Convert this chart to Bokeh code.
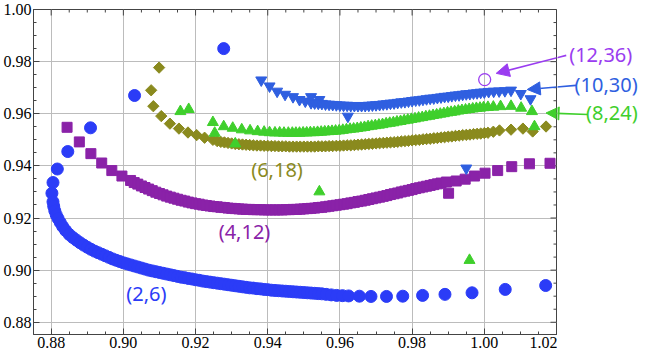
import numpy as np
from bokeh.plotting import figure
from bokeh.layouts import row
from bokeh.models import (Range1d, SingleIntervalTicker, PrintfTickFormatter,
                          Label, Arrow, NormalHead)
from bokeh.embed import file_html
from bokeh.resources import INLINE

# ---------------- data ----------------
# (2,6) blue circles
s26_x = [0.9278, 0.9031, 0.8909, 0.8846, 0.8817, 0.8805, 0.8802, 0.8805, 0.8807, 0.8810,
         0.8814, 0.8819, 0.8825, 0.8832, 0.8840, 0.8850, 0.8860, 0.8870, 0.8880, 0.8890,
         0.8900, 0.8910, 0.8920, 0.8930, 0.8940, 0.8950, 0.8960, 0.8970, 0.8980, 0.8990,
         0.9000, 0.9010, 0.9020, 0.9030, 0.9040, 0.9050, 0.9060, 0.9070, 0.9080, 0.9090,
         0.9100, 0.9110, 0.9120, 0.9130, 0.9140, 0.9150, 0.9160, 0.9170, 0.9180, 0.9190,
         0.9200, 0.9210, 0.9220, 0.9230, 0.9240, 0.9250, 0.9260, 0.9270, 0.9280, 0.9290,
         0.9300, 0.9310, 0.9320, 0.9330, 0.9340, 0.9350, 0.9360, 0.9370, 0.9380, 0.9390,
         0.9400, 0.9410, 0.9420, 0.9430, 0.9440, 0.9450, 0.9460, 0.9470, 0.9480, 0.9490,
         0.9500, 0.9510, 0.9520, 0.9530, 0.9540, 0.9550, 0.9562, 0.9576, 0.9591, 0.9607,
         0.9624, 0.9654, 0.9686, 0.9729, 0.9774, 0.9829, 0.9891, 0.9966, 1.0058, 1.0170]
s26_y = [0.9850, 0.9670, 0.9546, 0.9455, 0.9388, 0.9336, 0.9295, 0.9262, 0.9245, 0.9228,
         0.9212, 0.9198, 0.9183, 0.9167, 0.9152, 0.9137, 0.9125, 0.9115, 0.9105, 0.9096,
         0.9088, 0.9080, 0.9073, 0.9067, 0.9061, 0.9055, 0.9049, 0.9043, 0.9038, 0.9033,
         0.9028, 0.9024, 0.9020, 0.9016, 0.9012, 0.9008, 0.9004, 0.9000, 0.8997, 0.8994,
         0.8991, 0.8988, 0.8985, 0.8982, 0.8979, 0.8976, 0.8973, 0.8971, 0.8968, 0.8966,
         0.8963, 0.8961, 0.8958, 0.8956, 0.8954, 0.8952, 0.8950, 0.8948, 0.8946, 0.8944,
         0.8942, 0.8940, 0.8938, 0.8936, 0.8934, 0.8932, 0.8931, 0.8929, 0.8928, 0.8926,
         0.8925, 0.8923, 0.8922, 0.8921, 0.8920, 0.8919, 0.8918, 0.8917, 0.8916, 0.8915,
         0.8914, 0.8913, 0.8912, 0.8911, 0.8910, 0.8909, 0.8907, 0.8905, 0.8903, 0.8902,
         0.8901, 0.8900, 0.8899, 0.8899, 0.8900, 0.8903, 0.8907, 0.8913, 0.8926, 0.8941]

# (4,12) purple squares
s412_x = [0.8844, 0.8878, 0.8910, 0.8940, 0.8968, 0.8996, 0.9020, 0.9030, 0.9040, 0.9050,
          0.9060, 0.9070, 0.9080, 0.9090, 0.9100, 0.9110, 0.9120, 0.9130, 0.9140, 0.9150,
          0.9160, 0.9170, 0.9180, 0.9190, 0.9200, 0.9210, 0.9220, 0.9230, 0.9240, 0.9250,
          0.9260, 0.9270, 0.9280, 0.9290, 0.9300, 0.9310, 0.9320, 0.9330, 0.9340, 0.9350,
          0.9360, 0.9370, 0.9380, 0.9390, 0.9400, 0.9410, 0.9420, 0.9430, 0.9440, 0.9450,
          0.9460, 0.9470, 0.9480, 0.9490, 0.9500, 0.9510, 0.9520, 0.9530, 0.9540, 0.9550,
          0.9560, 0.9570, 0.9580, 0.9590, 0.9600, 0.9610, 0.9620, 0.9630, 0.9640, 0.9650,
          0.9660, 0.9670, 0.9680, 0.9690, 0.9700, 0.9710, 0.9720, 0.9730, 0.9740, 0.9750,
          0.9760, 0.9770, 0.9780, 0.9790, 0.9800, 0.9810, 0.9820, 0.9830, 0.9840, 0.9850,
          0.9860, 0.9870, 0.9880, 0.9895, 0.9901, 0.9922, 0.9947, 0.9973, 1.0002, 1.0037,
          1.0076, 1.0125, 1.0182]
s412_y = [0.9548, 0.9492, 0.9447, 0.9411, 0.9382, 0.9361, 0.9344, 0.9336, 0.9330, 0.9323,
          0.9317, 0.9311, 0.9305, 0.9299, 0.9294, 0.9289, 0.9284, 0.9280, 0.9276, 0.9272,
          0.9268, 0.9265, 0.9261, 0.9258, 0.9255, 0.9253, 0.9250, 0.9248, 0.9246, 0.9244,
          0.9243, 0.9241, 0.9240, 0.9238, 0.9237, 0.9236, 0.9235, 0.9234, 0.9233, 0.9233,
          0.9232, 0.9232, 0.9232, 0.9231, 0.9231, 0.9231, 0.9231, 0.9231, 0.9231, 0.9232,
          0.9232, 0.9233, 0.9233, 0.9234, 0.9235, 0.9236, 0.9237, 0.9238, 0.9240, 0.9241,
          0.9243, 0.9245, 0.9247, 0.9249, 0.9251, 0.9253, 0.9255, 0.9258, 0.9260, 0.9263,
          0.9265, 0.9268, 0.9271, 0.9274, 0.9277, 0.9280, 0.9283, 0.9286, 0.9290, 0.9293,
          0.9296, 0.9300, 0.9303, 0.9306, 0.9309, 0.9313, 0.9316, 0.9319, 0.9322, 0.9325,
          0.9328, 0.9331, 0.9334, 0.9338, 0.9295, 0.9342, 0.9349, 0.9361, 0.9372, 0.9382,
          0.9397, 0.9408, 0.9410]

# (6,18) olive diamonds
s618_x = [0.9099, 0.9077, 0.9083, 0.9105, 0.9129, 0.9154, 0.9179, 0.9203, 0.9225, 0.9248,
          0.9260, 0.9270, 0.9280, 0.9290, 0.9300, 0.9310, 0.9320, 0.9330, 0.9340, 0.9350,
          0.9360, 0.9370, 0.9380, 0.9390, 0.9400, 0.9410, 0.9420, 0.9430, 0.9440, 0.9450,
          0.9460, 0.9470, 0.9480, 0.9490, 0.9500, 0.9510, 0.9520, 0.9530, 0.9540, 0.9550,
          0.9560, 0.9570, 0.9580, 0.9590, 0.9600, 0.9610, 0.9620, 0.9630, 0.9640, 0.9650,
          0.9660, 0.9670, 0.9680, 0.9690, 0.9700, 0.9710, 0.9720, 0.9730, 0.9740, 0.9750,
          0.9760, 0.9770, 0.9780, 0.9790, 0.9800, 0.9810, 0.9820, 0.9830, 0.9840, 0.9850,
          0.9860, 0.9870, 0.9880, 0.9890, 0.9900, 0.9910, 0.9920, 0.9930, 0.9940, 0.9950,
          0.9960, 0.9970, 0.9980, 0.9990, 1.0000, 1.0010, 1.0025, 1.0042, 1.0074, 1.0107,
          1.0134, 1.0171]
s618_y = [0.9777, 0.9690, 0.9629, 0.9591, 0.9562, 0.9543, 0.9528, 0.9518, 0.9508, 0.9500,
          0.9495, 0.9492, 0.9490, 0.9488, 0.9486, 0.9484, 0.9483, 0.9482, 0.9481, 0.9480,
          0.9479, 0.9478, 0.9478, 0.9477, 0.9477, 0.9476, 0.9476, 0.9475, 0.9475, 0.9475,
          0.9474, 0.9474, 0.9474, 0.9474, 0.9474, 0.9474, 0.9474, 0.9474, 0.9475, 0.9475,
          0.9475, 0.9476, 0.9476, 0.9477, 0.9477, 0.9478, 0.9479, 0.9479, 0.9480, 0.9481,
          0.9482, 0.9483, 0.9484, 0.9485, 0.9486, 0.9487, 0.9488, 0.9489, 0.9490, 0.9491,
          0.9492, 0.9494, 0.9495, 0.9496, 0.9498, 0.9499, 0.9500, 0.9502, 0.9503, 0.9504,
          0.9506, 0.9507, 0.9509, 0.9510, 0.9512, 0.9513, 0.9515, 0.9516, 0.9518, 0.9519,
          0.9520, 0.9522, 0.9523, 0.9524, 0.9526, 0.9527, 0.9531, 0.9536, 0.9539, 0.9543,
          0.9532, 0.9551]

# (8,24) green triangles
s824_x = [0.9158, 0.9181, 0.9248, 0.9253, 0.9278, 0.9310, 0.9543, 0.9959,
          0.9303, 0.9328, 0.9351, 0.9372, 0.9390, 0.9405, 0.9420, 0.9433, 0.9445, 0.9457,
          0.9468, 0.9478, 0.9488, 0.9498, 0.9508, 0.9518, 0.9528, 0.9538, 0.9548, 0.9558,
          0.9568, 0.9578, 0.9588, 0.9598, 0.9608, 0.9618, 0.9628, 0.9638, 0.9648, 0.9658,
          0.9668, 0.9678, 0.9688, 0.9698, 0.9708, 0.9718, 0.9728, 0.9738, 0.9748, 0.9758,
          0.9768, 0.9778, 0.9788, 0.9798, 0.9808, 0.9818, 0.9828, 0.9838, 0.9848, 0.9858,
          0.9868, 0.9878, 0.9888, 0.9898, 0.9908, 0.9918, 0.9928, 0.9938, 0.9948, 0.9958,
          0.9968, 0.9978, 0.9988, 0.9998, 1.0010, 1.0025, 1.0045, 1.0074, 1.0102, 1.0132,
          1.0139]
s824_y = [0.9609, 0.9617, 0.9567, 0.9526, 0.9551, 0.9485, 0.9301, 0.9038,
          0.9545, 0.9539, 0.9535, 0.9532, 0.9530, 0.9528, 0.9527, 0.9527, 0.9526, 0.9526,
          0.9526, 0.9526, 0.9526, 0.9527, 0.9527, 0.9528, 0.9528, 0.9529, 0.9530, 0.9531,
          0.9532, 0.9533, 0.9534, 0.9535, 0.9537, 0.9539, 0.9541, 0.9542, 0.9544, 0.9546,
          0.9548, 0.9551, 0.9553, 0.9555, 0.9557, 0.9559, 0.9562, 0.9564, 0.9566, 0.9569,
          0.9571, 0.9574, 0.9576, 0.9579, 0.9581, 0.9584, 0.9586, 0.9589, 0.9591, 0.9594,
          0.9596, 0.9599, 0.9601, 0.9604, 0.9606, 0.9608, 0.9611, 0.9613, 0.9615, 0.9617,
          0.9619, 0.9621, 0.9622, 0.9624, 0.9625, 0.9626, 0.9628, 0.9629, 0.9622, 0.9609,
          0.9551]

# (10,30) blue inverted triangles
s1030_x = [0.9382, 0.9405, 0.9426, 0.9448, 0.9470, 0.9488, 0.9504, 0.9520, 0.9543, 0.9622,
           0.9950, 0.9520, 0.9530, 0.9540, 0.9550, 0.9560, 0.9570, 0.9580, 0.9590, 0.9600,
           0.9610, 0.9620, 0.9630, 0.9640, 0.9650, 0.9660, 0.9670, 0.9680, 0.9690, 0.9700,
           0.9710, 0.9720, 0.9730, 0.9740, 0.9750, 0.9760, 0.9770, 0.9780, 0.9790, 0.9800,
           0.9810, 0.9820, 0.9830, 0.9840, 0.9850, 0.9860, 0.9870, 0.9880, 0.9890, 0.9900,
           0.9910, 0.9920, 0.9930, 0.9940, 0.9950, 0.9960, 0.9970, 0.9980, 0.9990, 1.0000,
           1.0012, 1.0026, 1.0041, 1.0057, 1.0074, 1.0101, 1.0128]
s1030_y = [0.9729, 0.9706, 0.9686, 0.9674, 0.9665, 0.9654, 0.9648, 0.9665, 0.9654, 0.9590,
           0.9391, 0.9642, 0.9641, 0.9640, 0.9639, 0.9637, 0.9636, 0.9635, 0.9634, 0.9633,
           0.9632, 0.9632, 0.9631, 0.9631, 0.9631, 0.9631, 0.9631, 0.9632, 0.9633, 0.9634,
           0.9635, 0.9637, 0.9638, 0.9640, 0.9641, 0.9643, 0.9645, 0.9646, 0.9648, 0.9650,
           0.9652, 0.9653, 0.9655, 0.9657, 0.9659, 0.9660, 0.9662, 0.9664, 0.9666, 0.9667,
           0.9669, 0.9671, 0.9672, 0.9674, 0.9676, 0.9677, 0.9679, 0.9680, 0.9682, 0.9683,
           0.9685, 0.9686, 0.9687, 0.9688, 0.9690, 0.9677, 0.9657]

# (12,36) single open circle
s1236_x = [1.0001]
s1236_y = [0.9731]

x_ticks = [0.88, 0.90, 0.92, 0.94, 0.96, 0.98, 1.00, 1.02]
y_ticks = [0.88, 0.90, 0.92, 0.94, 0.96, 0.98, 1.00]

# ---------------- colours / layout constants ----------------
C_26 = "#2b3cf7"
C_412 = "#8a22a8"
C_618 = "#8a8a1e"
C_824 = "#3fcf2c"
C_1030 = "#2f5fe0"
C_1236 = "#9a3cf0"
AXC = "#444444"

X_MIN, X_MAX = 0.8751, 1.0200
Y_MIN, Y_MAX = 0.8753, 1.0000
FRAME_W, FRAME_H = 523, 325
SIDE_W = 82
BORDER_R = 1
PPU = FRAME_W / (X_MAX - X_MIN)  # pixels per x unit

yr = Range1d(Y_MIN, Y_MAX)

p = figure(frame_width=FRAME_W, frame_height=FRAME_H,
           x_range=Range1d(X_MIN, X_MAX), y_range=yr,
           output_backend="svg", toolbar_location=None,
           min_border_left=31, min_border_right=BORDER_R, min_border_top=9,
           min_border_bottom=22)
p.background_fill_color = "white"
p.border_fill_color = "white"
p.outline_line_color = AXC

xt = SingleIntervalTicker(interval=0.02, num_minor_ticks=4)
yt = SingleIntervalTicker(interval=0.02, num_minor_ticks=4)

for ax, tk in ((p.xaxis[0], xt), (p.yaxis[0], yt)):
    ax.ticker = tk
    ax.formatter = PrintfTickFormatter(format="%.2f")
    ax.axis_line_color = AXC
    ax.major_tick_line_color = AXC
    ax.minor_tick_line_color = AXC
    ax.major_tick_in = 6
    ax.major_tick_out = 0
    ax.minor_tick_in = 3
    ax.minor_tick_out = 0
    ax.major_label_text_font = "Liberation Serif"
    ax.major_label_text_font_size = "16px"
    ax.major_label_text_color = "black"
    ax.major_label_standoff = 2

p.xgrid.ticker = xt
p.ygrid.ticker = yt
p.grid.grid_line_color = "#bcbcbc"
p.grid.grid_line_width = 1

# mirrored inward ticks on the top and right frame edges (half of each dash is clipped)
x_minor = [round(a + k * (b - a) / 4, 4) for a, b in zip(x_ticks[:-1], x_ticks[1:]) for k in (1, 2, 3)]
y_minor = [round(a + k * (b - a) / 4, 4) for a, b in zip(y_ticks[:-1], y_ticks[1:]) for k in (1, 2, 3)]
p.scatter(x_ticks, [Y_MAX] * len(x_ticks), marker="dash", angle=np.pi / 2, size=12, line_color=AXC)
p.scatter(x_minor, [Y_MAX] * len(x_minor), marker="dash", angle=np.pi / 2, size=6, line_color=AXC)
p.scatter([X_MAX] * len(y_ticks), y_ticks, marker="dash", size=12, line_color=AXC)
p.scatter([X_MAX] * len(y_minor), y_minor, marker="dash", size=6, line_color=AXC)

# ---------------- series ----------------
p.scatter(s26_x, s26_y, marker="circle", size=12, fill_color=C_26, line_color=C_26)
p.scatter(s412_x, s412_y, marker="square", size=10, fill_color=C_412, line_color=C_412)
p.scatter(s618_x, s618_y, marker="square", size=8, angle=np.pi / 4,
          fill_color=C_618, line_color=C_618)
p.scatter(s824_x, s824_y, marker="triangle", size=11, fill_color=C_824, line_color=C_824)
p.scatter(s1030_x, s1030_y, marker="inverted_triangle", size=11,
          fill_color=C_1030, line_color=C_1030)
p.scatter(s1236_x, s1236_y, marker="circle", size=12, fill_color=None,
          line_color=C_1236, line_width=1.3)

# ---------------- side panel (continues the x scale to the right of the frame) -----
side_x0 = X_MAX + BORDER_R / PPU
side = figure(frame_width=SIDE_W, frame_height=FRAME_H,
              x_range=Range1d(side_x0, side_x0 + SIDE_W / PPU), y_range=yr,
              output_backend="svg", toolbar_location=None,
              x_axis_location=None, y_axis_location=None,
              min_border_left=0, min_border_right=0, min_border_top=9, min_border_bottom=22)
side.grid.visible = False
side.outline_line_color = None
side.background_fill_color = "white"
side.border_fill_color = "white"

FONT = "Noto Sans"
FS = "20px"

def add_label(fig, x, y, txt, color, align="left"):
    fig.add_layout(Label(x=x, y=y, text=txt, text_color=color, text_font=FONT,
                         text_font_size=FS, text_align=align, text_baseline="middle"))

add_label(p, 0.9008, 0.8912, "(2,6)", C_26)
add_label(p, 0.9264, 0.9147, "(4,12)", C_412)
add_label(p, 0.9354, 0.9385, "(6,18)", C_618)
add_label(side, 1.0425, 0.9603, "(8,24)", C_824, "right")
add_label(side, 1.0425, 0.9712, "(10,30)", C_1030, "right")
add_label(side, 1.0410, 0.9828, "(12,36)", C_1236, "right")

def add_arrow(xs, ys, xe, ye, color):
    for fig in (p, side):
        fig.add_layout(Arrow(x_start=xs, y_start=ys, x_end=xe, y_end=ye,
                             line_color=color, line_width=1.6,
                             end=NormalHead(size=13, fill_color=color, line_color=color)))

add_arrow(1.0227, 0.9824, 1.0033, 0.9755, C_1236)
add_arrow(1.0254, 0.9709, 1.0119, 0.9693, C_1030)
add_arrow(1.0287, 0.9597, 1.0171, 0.9603, C_824)

layout = row(p, side, spacing=0)
open("out.html", "w").write(file_html(layout, INLINE))
